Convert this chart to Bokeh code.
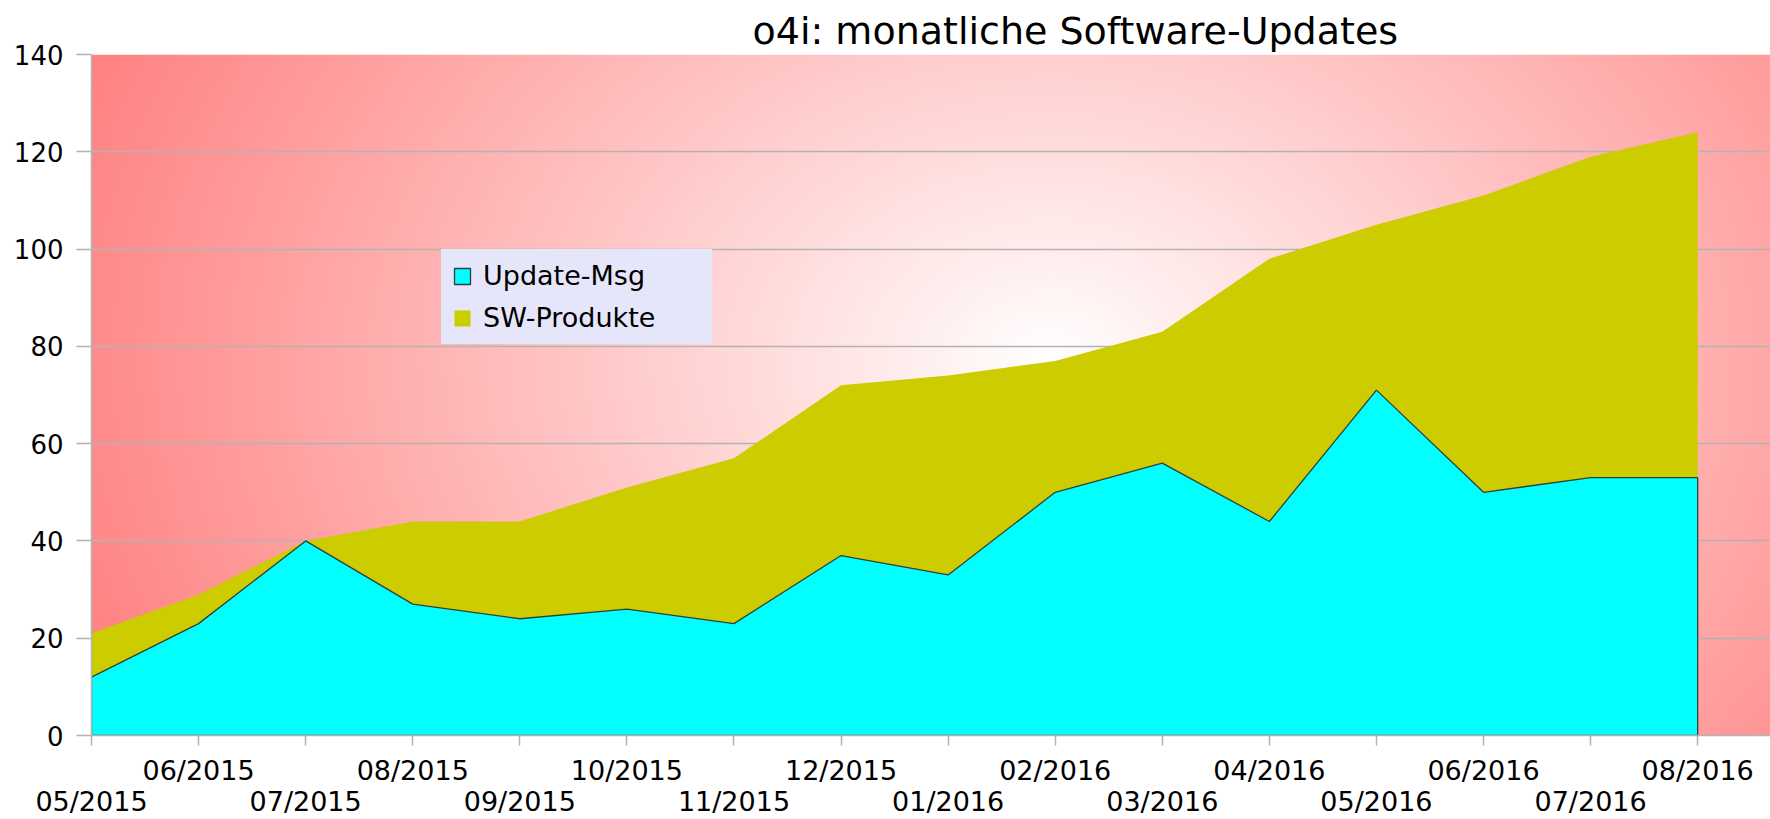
import numpy as np
from bokeh.plotting import figure
from bokeh.models import Range1d, FixedTicker, LinearAxis, Legend, LegendItem, ColumnDataSource
from bokeh.embed import file_html
from bokeh.resources import INLINE

# ---------------- data ----------------
months = ["05/2015", "06/2015", "07/2015", "08/2015", "09/2015", "10/2015",
          "11/2015", "12/2015", "01/2016", "02/2016", "03/2016", "04/2016",
          "05/2016", "06/2016", "07/2016", "08/2016"]
update_msg = [12, 23, 40, 27, 24, 26, 23, 37, 33, 50, 56, 44, 71, 50, 53, 53]
sw_produkte = [21, 29, 40, 44, 44, 51, 57, 72, 74, 77, 83, 98, 105, 111, 119, 124]
y_ticks = [0, 20, 40, 60, 80, 100, 120, 140]

series_names = ["Update-Msg", "SW-Produkte"]
title_text = "o4i: monatliche Software-Updates"

x = list(range(len(months)))
X_END = 15.68
FONT = "DejaVu Sans"
GRID = "#b3b3b3"

p = figure(width=1770, height=819, output_backend="svg", toolbar_location=None,
           x_range=Range1d(0, X_END), y_range=Range1d(0, 140),
           min_border_left=91, min_border_right=0, min_border_top=54, min_border_bottom=0)
p.outline_line_color = None
p.background_fill_color = "white"
p.border_fill_color = "white"

# ---------------- title ----------------
p.title.text = title_text
p.title.text_font = FONT
p.title.text_font_size = "38px"
p.title.text_font_style = "normal"
p.title.text_color = "black"
p.title.align = "left"
p.title.offset = 661
p.title.standoff = 4

# ---------------- background radial gradient ----------------
W, H = 600, 244
u = np.linspace(0, 1, W)[None, :]
v_top = 1 - np.linspace(0, 1, H)[:, None]
px = 91 + u * 1679
py = 54 + v_top * 681
t = np.sqrt(((px - 1050) / 1050.0) ** 2 + ((py - 360) / 800.0) ** 2)
t = np.clip(t, 0, 1)
g = (128 + 127 * (1 - t)).astype(np.uint8)
img = np.empty((H, W), dtype=np.uint32)
view = img.view(dtype=np.uint8).reshape((H, W, 4))
view[..., 0] = 255
view[..., 1] = g
view[..., 2] = g
view[..., 3] = 255
p.image_rgba(image=[img], x=0, y=0, dw=X_END, dh=140, level="image")

# ---------------- areas ----------------
src = ColumnDataSource(dict(x=x, msg=update_msg, sw=sw_produkte))
r_sw = p.varea(x="x", y1=0, y2="sw", source=src, fill_color="#cccc00", fill_alpha=1)
r_msg = p.patch(x + [x[-1], x[0]], update_msg + [0, 0],
                fill_color="#00ffff", fill_alpha=1, line_color="#2f3f3f", line_width=1.3)

# ---------------- grid ----------------
p.xgrid.visible = False
p.ygrid.ticker = FixedTicker(ticks=y_ticks)
p.ygrid.grid_line_color = GRID
p.ygrid.grid_line_width = 1.3

# ---------------- y axis ----------------
ya = p.yaxis[0]
ya.ticker = FixedTicker(ticks=y_ticks)
ya.axis_line_color = GRID
ya.axis_line_width = 1.5
ya.major_tick_line_color = GRID
ya.major_tick_line_width = 1.3
ya.major_tick_in = 0
ya.major_tick_out = 15
ya.minor_tick_line_color = None
ya.major_label_standoff = 13
ya.major_label_text_font = FONT
ya.major_label_text_font_size = "26px"
ya.major_label_text_color = "black"

# ---------------- x axes (staggered labels) ----------------
xa = p.xaxis[0]
xa.ticker = FixedTicker(ticks=x)
xa.major_label_overrides = {i: (months[i] if i % 2 == 1 else "") for i in x}
xa.axis_line_color = GRID
xa.axis_line_width = 1.5
xa.major_tick_line_color = GRID
xa.major_tick_line_width = 1.5
xa.major_tick_in = 0
xa.major_tick_out = 10
xa.minor_tick_line_color = None
xa.major_label_standoff = 9
xa.major_label_text_font = FONT
xa.major_label_text_font_size = "27px"
xa.major_label_text_color = "black"

xa2 = LinearAxis(ticker=FixedTicker(ticks=x[0::2]),
                 major_label_overrides={i: months[i] for i in x[0::2]})
xa2.axis_line_color = None
xa2.major_tick_line_color = None
xa2.minor_tick_line_color = None
xa2.major_tick_in = 0
xa2.major_tick_out = 0
xa2.major_label_standoff = -3
xa2.major_label_text_font = FONT
xa2.major_label_text_font_size = "27px"
xa2.major_label_text_color = "black"
p.add_layout(xa2, "below")

# ---------------- legend ----------------
legend = Legend(items=[LegendItem(label=series_names[0], renderers=[r_msg]),
                       LegendItem(label=series_names[1], renderers=[r_sw])],
                location=(350, 391))
legend.background_fill_color = "#e6e6fa"
legend.background_fill_alpha = 1
legend.border_line_color = "#e6e6fa"
legend.border_line_width = 1
legend.label_text_font = FONT
legend.label_text_font_size = "27px"
legend.label_text_color = "black"
legend.glyph_width = 20
legend.glyph_height = 20
legend.label_height = 31
legend.label_standoff = 11
legend.padding = 10
legend.spacing = 11
legend.label_width = 218
legend.margin = 0
p.add_layout(legend, "center")

open("out.html", "w").write(file_html(p, INLINE))
